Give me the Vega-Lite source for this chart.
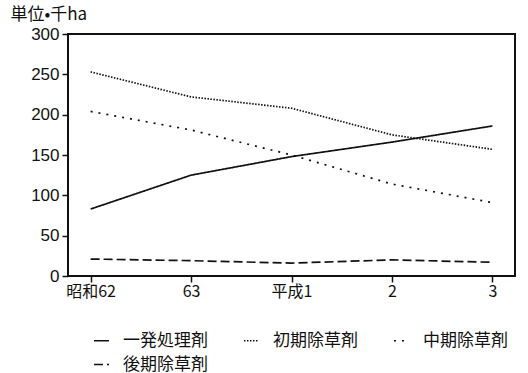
{
  "$schema": "https://vega.github.io/schema/vega-lite/v6.json",
  "width": 447,
  "height": 242,
  "autosize": {"type": "none"},
  "padding": {"left": 68, "top": 34, "right": 13, "bottom": 97},
  "background": "white",
  "config": {
    "view": {"stroke": "#111", "strokeWidth": 2},
    "font": "Liberation Sans",
    "axis": {"grid": false, "domain": false, "tickColor": "#111", "labelColor": "#111", "titleColor": "#111"}
  },
  "data": {
    "values": [
      {"year": "昭和62", "type": "一発処理剤", "value": 83},
      {"year": "63", "type": "一発処理剤", "value": 125},
      {"year": "平成1", "type": "一発処理剤", "value": 148},
      {"year": "2", "type": "一発処理剤", "value": 166},
      {"year": "3", "type": "一発処理剤", "value": 186},
      {"year": "昭和62", "type": "初期除草剤", "value": 253},
      {"year": "63", "type": "初期除草剤", "value": 222},
      {"year": "平成1", "type": "初期除草剤", "value": 208},
      {"year": "2", "type": "初期除草剤", "value": 175},
      {"year": "3", "type": "初期除草剤", "value": 157},
      {"year": "昭和62", "type": "中期除草剤", "value": 204},
      {"year": "63", "type": "中期除草剤", "value": 181},
      {"year": "平成1", "type": "中期除草剤", "value": 150},
      {"year": "2", "type": "中期除草剤", "value": 114},
      {"year": "3", "type": "中期除草剤", "value": 91},
      {"year": "昭和62", "type": "後期除草剤", "value": 21},
      {"year": "63", "type": "後期除草剤", "value": 19},
      {"year": "平成1", "type": "後期除草剤", "value": 16},
      {"year": "2", "type": "後期除草剤", "value": 20},
      {"year": "3", "type": "後期除草剤", "value": 17}
    ]
  },
  "mark": {"type": "line", "strokeWidth": 1.7, "color": "#111"},
  "encoding": {
    "x": {
      "field": "year", "type": "ordinal",
      "sort": ["昭和62", "63", "平成1", "2", "3"],
      "scale": {"type": "point", "padding": 0.225},
      "axis": {"title": null, "labelAngle": 0, "labelFont": "Noto Sans CJK JP", "labelFontSize": 16, "tickSize": 6, "labelPadding": 1, "tickWidth": 1.5}
    },
    "y": {
      "field": "value", "type": "quantitative",
      "scale": {"domain": [0, 300], "nice": false},
      "axis": {
        "values": [0, 50, 100, 150, 200, 250, 300],
        "labelFontSize": 17, "tickSize": 6, "labelPadding": 3, "tickWidth": 1.5,
        "title": "単位•千ha", "titleAngle": 0, "titleX": -58, "titleY": -20,
        "titleAlign": "left", "titleBaseline": "middle", "titleFont": "Noto Sans CJK JP",
        "titleFontSize": 17, "titleFontWeight": "normal"
      }
    },
    "strokeDash": {
      "field": "type", "type": "nominal",
      "sort": ["一発処理剤", "初期除草剤", "中期除草剤", "後期除草剤"],
      "scale": {
        "domain": ["一発処理剤", "初期除草剤", "中期除草剤", "後期除草剤"],
        "range": [[1, 0], [1.5, 1.5], [2, 6], [9, 4]]
      },
      "legend": {
        "title": null, "orient": "none", "direction": "horizontal", "legendX": 25, "legendY": 298,
        "columns": 3, "columnPadding": 33, "rowPadding": 6,
        "symbolType": "stroke", "symbolSize": 225, "symbolStrokeWidth": 1.5, "symbolStrokeColor": "#111",
        "labelFont": "Noto Sans CJK JP", "labelFontSize": 17, "labelOffset": 13, "labelColor": "#111"
      }
    }
  }
}
